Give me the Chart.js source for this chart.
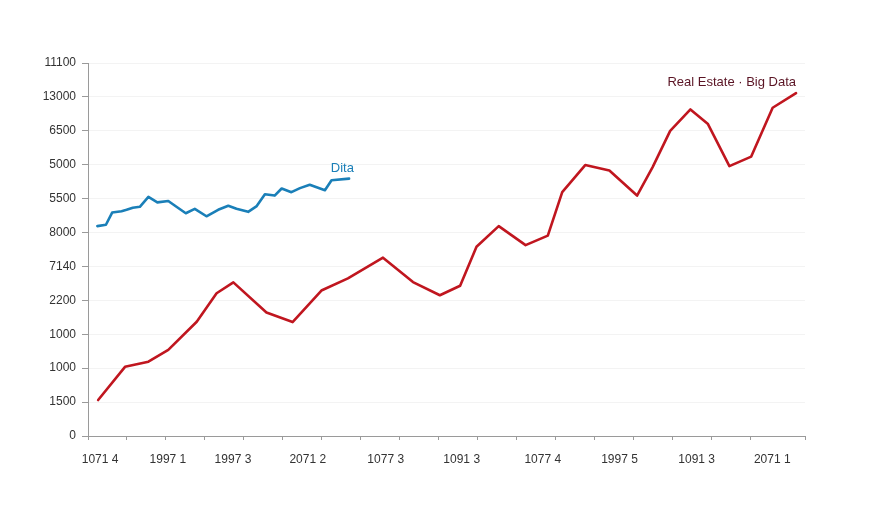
<!DOCTYPE html>
<html>
<head>
<meta charset="utf-8">
<script src="https://cdn.jsdelivr.net/npm/chart.js@4.4.1/dist/chart.umd.min.js"></script>
<style>
    html, body { margin: 0; padding: 0; background: #fff; }
    #wrap { width: 896px; height: 512px; }
</style>
</head>
<body>
<div id="wrap"><canvas id="lineChart" width="896" height="512"></canvas></div>
<script>
// y tick labels, bottom to top (as printed on the axis)
const yLabels = ['0', '1500', '1000', '1000', '2200', '7140', '8000', '5500', '5000', '6500', '13000', '11100'];

// x labels and where they sit on the index axis
const xLabels = ['1071 4', '1997 1', '1997 3', '2071 2', '1077 3', '1091 3', '1077 4', '1997 5', '1091 3', '2071 1'];
const xLabelPos = [0.31, 2.05, 3.72, 5.64, 7.64, 9.59, 11.67, 13.64, 15.62, 17.56];

// Real Estate · Big Data (red)
const redX = [0.26, 0.95, 1.55, 2.06, 2.79, 3.30, 3.73, 4.58, 5.25, 5.99, 6.67, 7.57, 8.34, 9.03, 9.55, 9.97,
    10.54, 11.23, 11.80, 12.17, 12.76, 13.38, 14.09, 14.49, 14.94, 15.46, 15.91, 16.46, 17.02, 17.57, 18.17];
const redY = [1.06, 2.04, 2.19, 2.54, 3.37, 4.21, 4.53, 3.64, 3.36, 4.29, 4.65, 5.26, 4.54, 4.15, 4.43, 5.58,
    6.19, 5.63, 5.91, 7.19, 7.99, 7.83, 7.09, 7.93, 9.00, 9.63, 9.20, 7.96, 8.24, 9.68, 10.11];

// Dita (blue)
const blueX = [0.24, 0.46, 0.62, 0.86, 0.99, 1.15, 1.33, 1.55, 1.78, 2.06, 2.27, 2.51, 2.74, 3.04, 3.34,
    3.60, 3.81, 4.11, 4.33, 4.54, 4.79, 4.97, 5.22, 5.44, 5.69, 6.08, 6.25, 6.70];
const blueY = [6.19, 6.23, 6.59, 6.63, 6.67, 6.73, 6.76, 7.05, 6.89, 6.93, 6.76, 6.57, 6.70, 6.48, 6.67,
    6.79, 6.70, 6.61, 6.78, 7.13, 7.09, 7.30, 7.19, 7.31, 7.41, 7.25, 7.54, 7.59];

const RED = '#c0161f';
const BLUE = '#1a7fb8';
const FONT = "'Liberation Sans', Arial, sans-serif";

function toPoints(xs, ys) {
    return xs.map((x, i) => ({ x: x, y: ys[i] }));
}

// series names drawn next to the lines
const seriesLabels = {
    id: 'seriesLabels',
    afterDatasetsDraw(chart) {
        const { ctx, scales } = chart;
        ctx.save();
        ctx.font = '13px ' + FONT;
        ctx.textBaseline = 'middle';
        ctx.textAlign = 'right';
        ctx.fillStyle = '#5a1424';
        ctx.fillText('Real Estate · Big Data', scales.x.getPixelForValue(18.17), scales.y.getPixelForValue(10.44));
        ctx.textAlign = 'left';
        ctx.fillStyle = BLUE;
        ctx.fillText('Dita', scales.x.getPixelForValue(6.23), scales.y.getPixelForValue(7.88));
        ctx.restore();
    }
};

new Chart(document.getElementById('lineChart').getContext('2d'), {
    type: 'line',
    data: {
        datasets: [
            {
                label: 'Real Estate · Big Data',
                data: toPoints(redX, redY),
                borderColor: RED,
                borderWidth: 2.6,
                pointRadius: 0,
                tension: 0,
                borderJoinStyle: 'round',
                borderCapStyle: 'round'
            },
            {
                label: 'Dita',
                data: toPoints(blueX, blueY),
                borderColor: BLUE,
                borderWidth: 2.6,
                pointRadius: 0,
                tension: 0,
                borderJoinStyle: 'round',
                borderCapStyle: 'round'
            }
        ]
    },
    options: {
        responsive: false,
        animation: false,
        layout: { padding: { left: 0, right: 91, top: 63, bottom: 0 } },
        plugins: {
            legend: { display: false },
            tooltip: { enabled: false }
        },
        scales: {
            x: {
                type: 'linear',
                min: 0,
                max: 18.4,
                position: 'bottom',
                ticks: { display: false, stepSize: 1 },
                grid: { drawOnChartArea: false, color: '#9a9a9a', tickLength: 4 },
                border: { color: '#9a9a9a', width: 1 },
                afterFit(axis) { axis.height = 6; }
            },
            xl: {
                type: 'linear',
                min: 0,
                max: 18.4,
                position: 'bottom',
                afterBuildTicks(axis) {
                    axis.ticks = xLabelPos.map(v => ({ value: v }));
                },
                ticks: {
                    autoSkip: false,
                    maxRotation: 0,
                    padding: 2,
                    color: '#333',
                    font: { family: FONT, size: 12 },
                    callback: (v, i) => xLabels[i]
                },
                grid: { display: false },
                border: { display: false },
                afterFit(axis) { axis.height = 70; }
            },
            y: {
                min: 0,
                max: 11,
                ticks: {
                    stepSize: 1,
                    padding: 6,
                    color: '#333',
                    font: { family: FONT, size: 12 },
                    callback: v => yLabels[v]
                },
                grid: { color: '#f3f3f3', tickColor: '#9a9a9a', tickLength: 6 },
                border: { color: '#9a9a9a', width: 1 },
                afterFit(axis) { axis.width = 88; }
            }
        }
    },
    plugins: [seriesLabels]
});
</script>
</body>
</html>
